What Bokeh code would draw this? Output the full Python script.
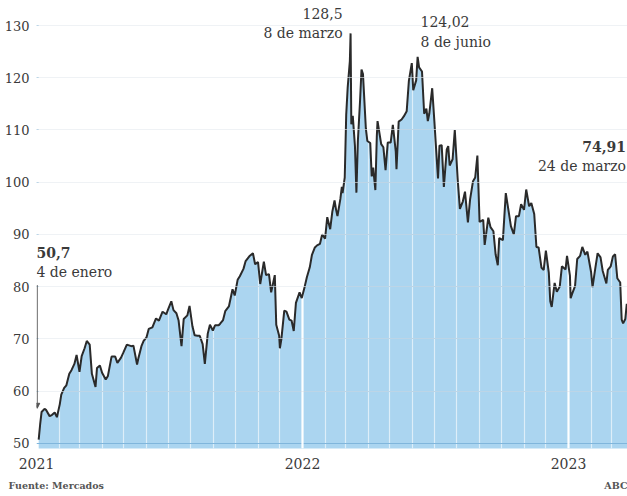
import pandas as pd
from bokeh.plotting import figure
from bokeh.models import (FixedTicker, DatetimeTickFormatter, Label, Arrow,
                          NormalHead, Range1d, Grid, LinearAxis)
from bokeh.embed import file_html
from bokeh.resources import INLINE

# ---- data (Brent, $/barril) ----
dates = [
    "2021-01-04", "2021-01-06", "2021-01-08", "2021-01-12", "2021-01-14", "2021-01-19",
    "2021-01-22", "2021-01-26", "2021-01-29", "2021-02-02", "2021-02-04", "2021-02-08",
    "2021-02-11", "2021-02-15", "2021-02-18", "2021-02-22", "2021-02-25", "2021-03-01",
    "2021-03-04", "2021-03-08", "2021-03-11", "2021-03-15", "2021-03-18", "2021-03-23",
    "2021-03-25", "2021-03-29", "2021-04-01", "2021-04-06", "2021-04-09", "2021-04-14",
    "2021-04-19", "2021-04-22", "2021-04-27", "2021-04-30", "2021-05-05", "2021-05-11",
    "2021-05-14", "2021-05-19", "2021-05-21", "2021-05-25", "2021-05-28", "2021-06-01",
    "2021-06-04", "2021-06-09", "2021-06-14", "2021-06-18", "2021-06-23", "2021-06-28",
    "2021-07-01", "2021-07-05", "2021-07-08", "2021-07-12", "2021-07-15", "2021-07-19",
    "2021-07-22", "2021-07-27", "2021-07-30", "2021-08-03", "2021-08-06", "2021-08-10",
    "2021-08-13", "2021-08-17", "2021-08-20", "2021-08-24", "2021-08-27", "2021-08-31",
    "2021-09-03", "2021-09-08", "2021-09-10", "2021-09-14", "2021-09-17", "2021-09-22",
    "2021-09-27", "2021-09-30", "2021-10-04", "2021-10-07", "2021-10-12", "2021-10-15",
    "2021-10-20", "2021-10-25", "2021-10-28", "2021-11-01", "2021-11-04", "2021-11-09",
    "2021-11-12", "2021-11-16", "2021-11-19", "2021-11-24", "2021-11-26", "2021-11-30",
    "2021-12-01", "2021-12-03", "2021-12-07", "2021-12-10", "2021-12-14", "2021-12-17",
    "2021-12-20", "2021-12-23", "2021-12-28", "2021-12-31",
    "2022-01-04", "2022-01-07", "2022-01-11", "2022-01-14", "2022-01-18", "2022-01-21",
    "2022-01-25", "2022-01-28", "2022-02-01", "2022-02-04", "2022-02-08", "2022-02-11",
    "2022-02-14", "2022-02-16", "2022-02-18", "2022-02-22", "2022-02-24", "2022-02-25",
    "2022-02-28", "2022-03-02", "2022-03-04", "2022-03-07", "2022-03-08", "2022-03-09",
    "2022-03-11", "2022-03-14", "2022-03-16", "2022-03-18", "2022-03-21", "2022-03-23",
    "2022-03-25", "2022-03-29", "2022-03-31", "2022-04-04", "2022-04-06", "2022-04-08",
    "2022-04-11", "2022-04-13", "2022-04-14", "2022-04-19", "2022-04-22", "2022-04-25",
    "2022-04-28", "2022-05-02", "2022-05-05", "2022-05-09", "2022-05-10", "2022-05-13",
    "2022-05-17", "2022-05-20", "2022-05-24", "2022-05-27", "2022-05-31", "2022-06-02",
    "2022-06-06", "2022-06-08", "2022-06-10", "2022-06-14", "2022-06-17", "2022-06-20",
    "2022-06-22", "2022-06-24", "2022-06-28", "2022-07-01", "2022-07-05", "2022-07-06",
    "2022-07-08", "2022-07-11", "2022-07-14", "2022-07-18", "2022-07-20", "2022-07-22",
    "2022-07-26", "2022-07-29", "2022-08-02", "2022-08-05", "2022-08-09", "2022-08-12",
    "2022-08-16", "2022-08-19", "2022-08-23", "2022-08-26", "2022-08-29", "2022-09-01",
    "2022-09-06", "2022-09-08", "2022-09-13", "2022-09-16", "2022-09-20", "2022-09-23",
    "2022-09-26", "2022-09-28", "2022-10-03", "2022-10-05", "2022-10-07", "2022-10-11",
    "2022-10-14", "2022-10-18", "2022-10-21", "2022-10-25", "2022-10-28", "2022-11-01",
    "2022-11-04", "2022-11-08", "2022-11-11", "2022-11-15", "2022-11-18", "2022-11-21",
    "2022-11-25", "2022-11-28", "2022-12-01", "2022-12-05", "2022-12-07", "2022-12-09",
    "2022-12-13", "2022-12-16", "2022-12-20", "2022-12-23", "2022-12-28", "2022-12-30",
    "2023-01-03", "2023-01-04", "2023-01-06", "2023-01-10", "2023-01-13", "2023-01-17",
    "2023-01-20", "2023-01-24", "2023-01-27", "2023-02-01", "2023-02-03", "2023-02-07",
    "2023-02-10", "2023-02-14", "2023-02-17", "2023-02-22", "2023-02-24", "2023-02-28",
    "2023-03-03", "2023-03-06", "2023-03-09", "2023-03-13", "2023-03-15", "2023-03-17",
    "2023-03-20", "2023-03-22", "2023-03-24",
]
prices = [
    50.7, 53.6, 56.0, 56.6, 56.4, 55.2,
    55.4, 55.9, 55.0, 57.5, 59.3, 60.6,
    61.1, 63.3, 64.0, 65.2, 66.9, 63.7,
    66.7, 68.2, 69.6, 68.9, 63.3, 60.8,
    64.4, 64.9, 63.5, 62.2, 62.9, 66.6,
    66.6, 65.4, 66.4, 67.3, 68.9, 68.6,
    68.7, 65.1, 66.4, 68.6, 69.6, 70.3,
    71.9, 72.2, 73.9, 73.5, 75.2, 74.7,
    75.8, 77.2, 75.5, 74.9, 73.5, 68.6,
    73.8, 74.5, 76.3, 72.4, 70.7, 70.6,
    70.6, 69.0, 65.2, 71.0, 72.7, 71.6,
    72.6, 72.6, 72.9, 73.6, 75.3, 76.2,
    79.5, 78.3, 81.3, 82.0, 83.4, 84.9,
    85.8, 86.4, 84.3, 84.7, 80.5, 84.8,
    82.2, 82.4, 78.9, 82.2, 72.7, 70.6,
    68.2, 69.9, 75.4, 75.2, 73.7, 73.5,
    71.5, 76.9, 78.9, 77.8,
    80.0, 81.8, 83.7, 86.1, 87.5, 87.9,
    88.2, 90.0, 89.2, 93.3, 91.0, 94.4,
    96.5, 94.8, 93.5, 96.8, 99.1, 97.9,
    100.9, 112.9, 118.1, 123.2, 128.5, 111.1,
    112.7, 106.9, 98.0, 107.9, 115.6, 121.6,
    120.7, 110.2, 107.9, 107.5, 101.1, 102.8,
    98.5, 108.8, 111.7, 107.3, 106.7, 102.3,
    107.6, 107.6, 111.0, 105.9, 102.5, 111.6,
    112.0, 112.6, 113.6, 119.4, 122.8, 117.6,
    119.5, 124.02, 122.0, 121.2, 113.1, 114.1,
    111.7, 113.1, 118.0, 111.6, 102.8, 100.7,
    107.0, 107.1, 99.1, 106.3, 106.9, 103.2,
    104.4, 110.0, 100.5, 94.9, 96.3, 98.2,
    92.3, 96.7, 100.2, 100.9, 105.1, 92.4,
    92.8, 88.0, 93.2, 91.4, 90.6, 86.2,
    84.1, 89.3, 88.9, 93.4, 97.9, 94.3,
    91.6, 90.0, 93.5, 93.5, 95.8, 94.7,
    98.6, 95.4, 96.0, 93.9, 87.6, 87.5,
    83.6, 83.2, 86.9, 82.7, 77.2, 76.1,
    80.7, 79.0, 80.0, 83.9, 83.3, 85.9,
    82.1, 77.8, 78.6, 80.1, 85.3, 85.9,
    87.6, 86.1, 86.7, 82.8, 79.9, 83.7,
    86.4, 85.6, 83.0, 80.6, 83.2, 83.9,
    85.8, 86.2, 81.6, 80.8, 73.7, 72.97,
    73.8, 76.7, 74.91,
]
y_ticks = [50, 60, 70, 80, 90, 100, 110, 120, 130]
year_ticks = ["2021-01-01", "2022-01-01", "2023-01-01"]

FONT = "DejaVu Serif"


def ms(d):
    return int(pd.Timestamp(d).value // 10**6)


x = pd.to_datetime(dates)

p = figure(width=627, height=496, x_axis_type="datetime",
           output_backend="svg", toolbar_location=None,
           x_range=Range1d(ms("2021-01-01"), ms("2023-03-23")),
           y_range=Range1d(49.0, 134.8),
           min_border_left=36, min_border_right=0,
           min_border_top=0, min_border_bottom=48)
p.outline_line_color = None
p.background_fill_color = "white"
p.border_fill_color = "white"

# blue area (drawn below the grids)
p.varea(x=x, y1=40, y2=prices, fill_color="#abd5f0", level="image")

# grids over the blue area
p.ygrid.ticker = FixedTicker(ticks=y_ticks)
p.ygrid.grid_line_color = "#80b6dc"
p.ygrid.grid_line_width = 1

month_ticks = [ts.value // 10**6 for ts in pd.date_range("2021-02-01", "2023-03-01", freq="MS")]
p.xgrid.ticker = FixedTicker(ticks=month_ticks)
p.xgrid.grid_line_color = "white"
p.xgrid.grid_line_alpha = 0.6
p.xgrid.grid_line_width = 1.2

yg = Grid(dimension=0, ticker=FixedTicker(ticks=[ms(d) for d in year_ticks]),
          grid_line_color="white", grid_line_width=2.2, grid_line_alpha=0.95)
p.add_layout(yg)

# white cover above the curve hides the grids outside the area
p.varea(x=x, y1=prices, y2=140, fill_color="white")

# faint grid lines outside the area
fg = Grid(dimension=1, ticker=FixedTicker(ticks=y_ticks[1:]),
          grid_line_color="#e4e9ee", grid_line_alpha=0.6, level="annotation")
p.add_layout(fg)

p.line(x, prices, line_color="#2a2a2a", line_width=2)

# axes
p.xaxis.ticker = FixedTicker(ticks=[ms(d) for d in year_ticks])
p.xaxis.formatter = DatetimeTickFormatter(years="%Y", months="%Y", days="%Y",
                                          hours="%Y", minutes="%Y", seconds="%Y",
                                          milliseconds="%Y", microseconds="%Y")
p.yaxis.ticker = FixedTicker(ticks=y_ticks)
for ax in (p.xaxis, p.yaxis):
    ax.axis_line_color = None
    ax.major_tick_line_color = None
    ax.minor_tick_line_color = None
    ax.major_tick_out = 0
    ax.major_tick_in = 0
    ax.minor_tick_out = 0
    ax.major_label_text_font = FONT
    ax.major_label_text_color = "#3a3a3a"
p.xaxis.major_label_text_font_size = "14px"
p.xaxis.major_label_standoff = 9
p.yaxis.major_label_text_font_size = "13px"
p.yaxis.major_label_standoff = 7

# source line under the year labels
src_ticks = [ms("2021-01-28"), ms("2023-03-08")]
src = LinearAxis(ticker=FixedTicker(ticks=src_ticks),
                 major_label_overrides={src_ticks[0]: "Fuente: Mercados",
                                        src_ticks[1]: "ABC"},
                 axis_line_color=None, major_tick_line_color=None,
                 minor_tick_line_color=None, major_tick_out=0, major_tick_in=0,
                 minor_tick_out=0, major_label_standoff=8,
                 major_label_text_font=FONT, major_label_text_font_size="9.5px",
                 major_label_text_font_style="bold",
                 major_label_text_color="#555555")
p.add_layout(src, "below")


def lab(text, d, y, align="left", bold=False, size="14px", color="#3a3a3a"):
    p.add_layout(Label(x=ms(d), y=y, text=text, text_align=align,
                       text_baseline="middle", text_font=FONT,
                       text_font_size=size, text_color=color,
                       text_font_style="bold" if bold else "normal"))


lab("128,5", "2022-02-25", 132.3, align="right")
lab("8 de marzo", "2022-02-25", 128.5, align="right")
lab("124,02", "2022-06-12", 130.8)
lab("8 de junio", "2022-06-12", 126.8)
lab("74,91", "2023-03-21", 106.9, align="right", bold=True)
lab("24 de marzo", "2023-03-21", 103.1, align="right")
lab("50,7", "2021-01-01", 86.6, bold=True)
lab("4 de enero", "2021-01-01", 82.8)

p.add_layout(Arrow(x_start=ms("2021-01-02"), y_start=80.3,
                   x_end=ms("2021-01-02"), y_end=56.7,
                   line_color="#555555", line_width=1,
                   end=NormalHead(size=5, fill_color="#555555", line_color="#555555")))

open("out.html", "w").write(file_html(p, INLINE))
